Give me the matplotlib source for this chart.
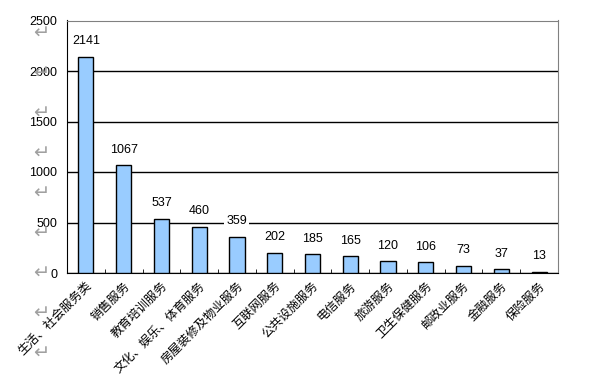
import matplotlib
matplotlib.use("Agg")
import matplotlib.pyplot as plt
import numpy as np

plt.rcParams['font.family'] = ['Liberation Sans', 'Noto Sans CJK SC', 'DejaVu Sans']

# categories and counts
categories = ['生活、社会服务类', '销售服务', '教育培训服务', '文化、娱乐、体育服务',
              '房屋装修及物业服务', '互联网服务', '公共设施服务', '电信服务',
              '旅游服务', '卫生保健服务', '邮政业服务', '金融服务', '保险服务']
counts = [2141, 1067, 537, 460, 359, 202, 185, 165, 120, 106, 73, 37, 13]
y_ticks = [0, 500, 1000, 1500, 2000, 2500]

fig = plt.figure(figsize=(6.05, 3.74), dpi=100)
ax = fig.add_axes([67 / 605, 1 - 273 / 374, 491 / 605, 252.5 / 374])

x = np.arange(len(categories))
bars = ax.bar(x, counts, width=0.4, color='#99CCFF', edgecolor='black', linewidth=1, zorder=3)

# value labels with white boxes (they cut through the gridlines)
for xi, v in zip(x, counts):
    ax.annotate(str(v), (xi, v), xytext=(0, 11), textcoords='offset points',
                ha='center', va='center', fontsize=9, zorder=4,
                bbox=dict(facecolor='white', edgecolor='none', pad=1.5))

ax.set_xlim(-0.5, len(categories) - 0.5)
ax.set_ylim(0, 2500)
ax.set_yticks(y_ticks)
ax.yaxis.grid(True, color='black', linewidth=1)
ax.set_axisbelow(True)
ax.tick_params(axis='y', length=0, pad=7, labelsize=9)

ax.set_xticks(x)
ax.set_xticklabels(categories, rotation=45, ha='right', rotation_mode='anchor', fontsize=8.8)
ax.tick_params(axis='x', which='major', length=0, pad=5)
ax.set_xticks(np.arange(len(categories) + 1) - 0.5, minor=True)
ax.tick_params(axis='x', which='minor', direction='in', length=3, color='black')

for s in ['top', 'right']:
    ax.spines[s].set_color('#808080')
for s in ['left', 'bottom']:
    ax.spines[s].set_color('black')

# stray paragraph marks from the source document
for py in range(33, 354, 40):
    fig.text(41 / 605, 1 - py / 374, '↵', color='#a0a0a0', fontsize=14,
             family='DejaVu Sans', ha='center', va='center')

fig.savefig('out.png', dpi=100)
